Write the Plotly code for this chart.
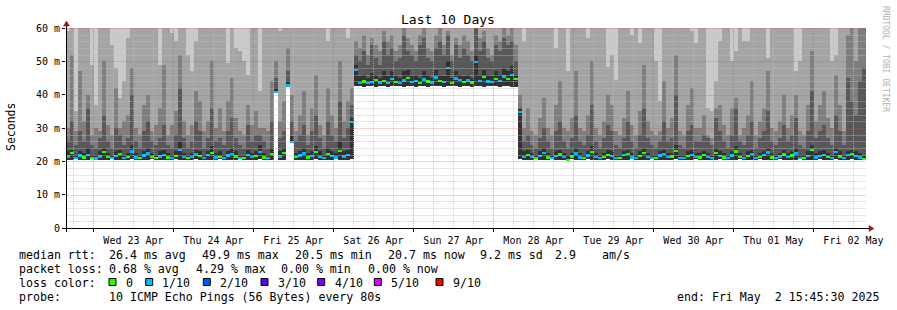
import plotly.graph_objects as go
import pandas as pd

# ---------------- data (ms), one value per 72-minute bin ----------------
rtt_min = [
 20.5,20.4,20.6,20.5,20.4,20.5,20.6,20.4,20.5,20.5,
 20.4,20.6,20.5,20.4,20.5,20.5,20.6,20.4,20.5,20.4,
 20.5,20.6,20.5,20.4,20.5,20.5,20.4,20.6,20.5,20.5,
 20.4,20.5,20.6,20.4,20.5,20.5,20.4,20.5,20.6,20.5,
 20.4,20.5,20.5,20.6,20.4,20.5,20.5,20.4,20.6,20.5,
 20.4,20.5,40.4,20.5,20.4,42.4,25.5,20.5,20.4,20.5,
 20.5,20.4,20.6,20.5,20.4,20.5,20.5,20.6,20.4,20.5,
 20.5,20.6,42.6,42.5,42.4,42.6,42.5,42.4,42.5,42.6,
 42.4,42.5,42.5,42.6,42.4,42.5,42.5,42.4,42.6,42.5,
 42.4,42.5,42.6,42.5,42.4,42.5,42.5,42.6,42.4,42.5,
 42.5,42.4,42.6,42.5,42.4,42.5,42.6,42.5,42.4,42.5,
 42.5,42.4,42.3,20.6,20.5,20.4,20.5,20.6,20.5,20.4,
 20.5,20.6,20.4,20.5,20.5,20.4,20.6,20.5,20.4,20.5,
 20.6,20.5,20.4,20.5,20.5,20.6,20.4,20.5,20.5,20.4,
 20.5,20.6,20.5,20.4,20.5,20.5,20.6,20.4,20.5,20.5,
 20.4,20.5,20.6,20.5,20.4,20.5,20.5,20.6,20.4,20.5,
 20.5,20.4,20.5,20.6,20.5,20.4,20.5,20.5,20.6,20.4,
 20.5,20.5,20.4,20.6,20.5,20.5,20.4,20.5,20.6,20.5,
 20.4,20.5,20.5,20.6,20.4,20.5,20.5,20.4,20.6,20.5,
 20.5,20.4,20.6,20.5,20.4,20.5,20.6,20.5,20.4,20.5,
]
rtt_median = [
 21.5,22.5,21.0,21.8,21.2,22.0,21.0,20.9,21.5,22.8,
 21.3,21.0,21.6,22.2,21.1,21.4,23.0,21.2,21.0,21.8,
 22.4,21.3,21.0,21.5,22.0,21.2,21.1,21.7,23.5,21.4,
 21.0,21.3,22.1,21.6,21.0,21.9,22.6,21.2,21.4,21.0,
 21.8,22.3,21.5,21.1,21.0,22.0,21.3,21.6,22.8,21.2,
 21.0,22.2,40.8,21.5,22.6,42.8,25.8,21.3,21.8,22.4,
 21.2,21.6,22.9,21.4,21.0,22.3,21.7,21.2,23.1,21.5,
 21.9,31.9,47.4,43.6,44.0,43.5,43.8,44.5,43.7,44.2,
 43.6,44.8,43.9,43.5,44.3,45.0,43.8,44.1,43.6,44.6,
 44.0,43.7,45.2,44.2,43.8,48.0,43.6,44.9,44.4,43.9,
 44.3,43.7,49.9,44.1,45.3,44.0,43.8,44.7,44.2,45.5,
 44.8,46.0,44.8,34.9,21.4,22.0,21.3,21.0,21.7,22.5,
 21.2,21.0,21.6,22.1,21.3,20.5,21.5,22.4,21.2,21.1,
 21.8,22.9,21.3,21.0,21.4,22.0,21.6,21.1,21.0,21.9,
 22.3,21.2,21.0,21.7,22.6,21.4,21.1,21.0,21.8,22.2,
 21.3,21.5,23.2,21.1,21.0,21.6,22.0,21.3,21.2,21.9,
 21.4,21.0,22.5,21.7,21.2,21.0,21.8,23.0,21.3,21.1,
 21.6,22.2,21.0,21.4,21.9,22.7,21.2,21.0,21.5,22.1,
 21.3,21.8,22.4,21.1,21.0,21.6,23.4,21.2,21.7,22.0,
 21.4,21.1,22.8,21.5,21.0,21.9,22.3,21.6,21.2,20.7,
]
rtt_p6 = [
 23,23.5,22,23,22.5,24,22,22,23,24,
 22.5,22,23,23.5,22,22.5,25,22.5,22,23,
 24,22.5,22,23,23.5,22.5,22,23,26,22.5,
 22,22.5,23.5,23,22,23,24.5,22.5,23,22,
 23,24,23,22,22,23.5,22.5,23,25,22.5,
 22,24,42,23,24,44,27.5,22.5,23,24,
 22.5,23,24.5,23,22,24,23,22.5,26,23,
 23.5,33,49,45.5,46,45,46.5,46,45,47,
 45.5,47,45.5,45,47,47.5,45.5,46,45,47,
 46,45,47.5,46,45.5,50,45,47,46,45.5,
 46,45,52,46,47.5,46,45.5,47,46,48,
 47,48.5,46,36,23,23.5,22.5,22,23,24,
 22.5,22,23,23.5,22.5,22,22.5,24,22.5,22,
 23,24.5,22.5,22,22.5,23.5,23,22,22,23,
 23.5,22.5,22,23,24,22.5,22,22,23,23.5,
 22.5,22.5,25,22,22,23,23.5,22.5,22.5,23,
 22.5,22,24,23,22.5,22,23,24.5,22.5,22,
 23,23.5,22,22.5,23,24,22.5,22,22.5,23.5,
 22.5,23,24,22,22,23,25,22.5,23,23.5,
 22.5,22,24,23,22,23,23.5,23,22.5,21.5,
]
rtt_p7 = [
 26,32,25,29,26,36,25,24,27,34,
 26,24,30,28,25,27,40,26,24,29,
 32,26,25,27,31,25,24,28,42,27,
 24,26,32,29,24,27,36,26,27,25,
 29,33,27,25,24,31,26,28,28,26,
 24,32,45,27,29,47,32,26,28,31,
 25,29,34,27,24,32,28,26,38,27,
 30,37,52,50,53,49,55,51,49,56,
 52,54,50,51,58,53,52,50,55,57,
 51,50,54,56,52,58,50,55,51,54,
 52,50,60,53,56,51,50,55,53,57,
 55,56,50,36,26,28,25,24,27,30,
 26,24,29,32,26,24,27,34,26,25,
 28,37,26,24,27,31,29,25,24,27,
 32,26,24,28,36,27,25,24,26,32,
 26,27,40,25,24,29,31,26,26,28,
 27,25,33,29,26,24,28,36,26,25,
 28,32,24,27,29,35,26,25,27,31,
 26,28,33,25,24,29,41,27,29,31,
 27,25,34,29,25,45,38,34,44,48,
]
rtt_p8 = [
 30,52,29,47,32,40,28,30,29,50,
 31,28,42,30,32,34,48,30,28,37,
 40,29,31,36,49,28,31,35,52,32,
 28,31,41,38,29,32,50,30,36,29,
 38,45,33,29,28,37,31,35,30,30,
 29,44,50,32,38,54,40,29,34,41,
 28,36,46,31,28,42,34,30,50,32,
 38,42,56,54,58,52,57,55,53,59,
 56,58,53,55,61,57,55,53,58,60,
 54,53,58,61,55,59,52,57,55,58,
 56,53,61,57,59,54,52,58,56,60,
 58,61,55,40,30,36,29,28,33,39,
 30,28,37,44,30,29,33,47,30,29,
 34,50,30,28,32,40,37,29,28,33,
 41,31,28,35,49,32,29,28,29,44,
 30,33,52,29,28,37,42,30,30,34,
 28,27,36,37,31,28,36,39,28,30,
 34,44,28,32,36,47,30,29,32,40,
 30,34,40,29,28,37,53,32,37,41,
 33,30,46,37,29,58,61,50,61,61,
]
rtt_p9 = [
 59,61,35,61,61,61,49,37,61,61,
 61,55,48,39,44,57,61,61,61,61,
 61,61,61,49,61,61,58.5,56,61,61,
 52,47,56,61,61,61,61,61,61,61,
 49.5,61,54,53,50,46,61,61,41,61,
 61,61,61,59,61,61,61,61,61,61,
 61,61,61,61,61,56,61,61,61,61,
 57,61,61,61,61,61,61,61,61,61,
 61,61,61,61,61,61,61,61,61,61,
 61,61,61,61,61,61,61,61,61,61,
 61,61,61,61,61,61,61,61,61,61,
 61,61,61,61,56,61,61,61,61,61,
 61,61,54,61,61,47,61,61,61,61,
 57,61,61,61,61,48.4,52,44.4,61,61,
 61,58,61,55.5,61,61,61,50,38,61,
 61,61,61,61,61,61,59,55.5,61,61,
 36,35,44,56,61,61,50,53,61,56,
 56,61,61,61,61,51,61,61,61,61,
 61,61,47,50,61,61,61,61,61,61,
 61,50,52,61,61,61,61,61,61,61,
]
rtt_max = [
 61,61,61,61,61,61,61,61,61,61, 61,61,61,61,61,61,61,61,61,61,
 61,61,61,61,61,61,61,61,61,61, 61,61,61,61,61,61,61,61,61,61,
 61,61,61,61,61,61,61,61,61,61, 61,61,61,61,61,61,61,61,61,61,
 61,61,61,61,61,61,61,61,61,61, 61,61,61,61,61,61,61,61,61,61,
 61,61,61,61,61,61,61,61,61,61, 61,61,61,61,61,61,61,61,61,61,
 61,61,61,61,61,61,61,61,61,61, 61,61,61,61,61,61,61,61,61,61,
 61,61,61,61,61,61,61,61,61,61, 61,61,61,61,61,61,61,61,61,61,
 61,61,61,61,61,61,61,61,61,61, 61,61,61,61,61,61,61,61,61,61,
 61,61,61,61,61,61,61,61,61,61, 61,61,61,61,61,61,61,61,61,61,
 61,61,61,61,61,61,61,61,61,61, 61,61,61,61,61,61,61,61,61,61,
]
loss = [
 1,0,1,1,0,1,0,1,1,0, 0,1,1,0,1,0,1,1,0,1,
 1,0,0,1,1,0,1,0,1,1, 0,1,1,0,1,1,0,1,0,1,
 1,1,0,1,0,1,1,0,1,0, 1,0,1,1,0,1,1,0,1,1,
 0,1,0,1,1,0,1,1,0,1, 1,1,1,1,0,1,1,0,1,0,
 1,1,0,1,1,0,1,1,0,1, 0,1,1,0,1,1,0,1,1,0,
 1,0,1,1,0,1,1,0,1,1, 0,1,0,1,1,0,1,0,1,1,
 0,1,1,0,1,0,0,1,1,0, 1,0,1,1,0,0,1,1,0,1,
 0,1,1,0,0,1,1,0,1,1, 1,0,0,1,1,0,1,1,0,0,
 1,1,0,1,0,1,1,0,0,1, 0,1,1,0,1,1,0,1,1,0,
 1,0,1,1,0,1,0,1,1,1, 0,1,1,0,1,1,0,1,1,0,
]

loss_labels = ["0", "1/10", "2/10", "3/10", "4/10", "5/10", "9/10"]
loss_levels = [0, 1, 2, 3, 4, 5, 9]
loss_colors = ["#26ff00", "#00b8ff", "#0059ff", "#5e00ff", "#7e00ff", "#dd00ff", "#ff0000"]
smoke_colors = ["#cacaca", "#a4a4a4", "#7e7e7e", "#585858", "#323232"]

y_ticks = [0, 10, 20, 30, 40, 50, 60]
y_ticktext = ["0", "10 m", "20 m", "30 m", "40 m", "50 m", "60 m"]

title = "Last 10 Days"
line_rtt = ["median rtt:", "26.4 ms avg", "49.9 ms max", "20.5 ms min", "20.7 ms now",
            "9.2 ms sd", "2.9", "am/s"]
line_loss = ["packet loss:", "0.68 % avg", "4.29 % max", "0.00 % min", "0.00 % now"]
line_probe = ["probe:", "10 ICMP Echo Pings (56 Bytes) every 80s"]
end_line = "end: Fri May  2 15:45:30 2025"

# ---------------- geometry ----------------
W, H = 897, 310
PL, PR, PT, PB = 66, 866, 28, 228
start = pd.Timestamp("2025-04-22 15:45:30")
end = pd.Timestamp("2025-05-02 15:45:30")
STEP = pd.Timedelta(minutes=72)
n = len(rtt_median)
times = [start + STEP * (i + 0.5) for i in range(n)]
bw = STEP.total_seconds() * 1000
SPAN = (end - start).total_seconds()

def px(x):
    return (x - PL) / (PR - PL)

def py(y):
    return (PB - y) / (PB - PT)

MONO = "DejaVu Sans Mono"
fig = go.Figure()

tops = [rtt_max, rtt_p9, rtt_p8, rtt_p7, rtt_p6]
for top, col in zip(tops, smoke_colors):
    fig.add_trace(go.Bar(
        x=times, y=[t - b for t, b in zip(top, rtt_min)], base=rtt_min,
        width=bw, marker=dict(color=col, line=dict(width=0)),
        hoverinfo="skip", showlegend=False))

cmap = dict(zip(loss_levels, loss_colors))
fig.add_trace(go.Bar(
    x=times, y=[0.7] * n, base=[m - 0.35 for m in rtt_median],
    width=bw * 0.8, marker=dict(color=[cmap[l] for l in loss], line=dict(width=0)),
    hoverinfo="skip", showlegend=False))

shapes = []
# grid (drawn above the smoke, like rrdtool), snapped to device pixels
minor_col = "rgba(191,191,191,0.75)"
major_col = "rgba(222,79,79,0.55)"
t = pd.Timestamp("2025-04-22 18:00")
while t < end:
    major = (t.hour == 0)
    xpix = round(PL + (t - start).total_seconds() / SPAN * (PR - PL)) + 0.5
    shapes.append(dict(type="line", xref="paper", yref="paper", x0=px(xpix), x1=px(xpix), y0=0, y1=1,
                       layer="above", line=dict(color=major_col if major else minor_col, width=1, dash="1px,1px")))
    t += pd.Timedelta(hours=6)
for v in range(2, 61, 2):
    major = (v % 10 == 0)
    ypix = round(PB - v / 60 * (PB - PT)) + 0.5
    shapes.append(dict(type="line", xref="paper", yref="paper", x0=px(66.5), x1=1, y0=py(ypix), y1=py(ypix),
                       layer="above", line=dict(color=major_col if major else minor_col, width=1, dash="1px,1px")))
# axes with arrows
shapes.append(dict(type="line", xref="paper", yref="paper", x0=px(62), x1=px(869), y0=py(228.5), y1=py(228.5),
                   layer="above", line=dict(color="black", width=1)))
shapes.append(dict(type="line", xref="paper", yref="paper", x0=px(66.5), x1=px(66.5), y0=py(232), y1=py(25),
                   layer="above", line=dict(color="black", width=1)))
arrow_col = "#a01414"
shapes.append(dict(type="path", xref="paper", yref="paper", layer="above",
                   path=f"M {px(869)},{py(225.5)} L {px(874)},{py(228.5)} L {px(869)},{py(231.5)} Z",
                   fillcolor=arrow_col, line=dict(color=arrow_col, width=0.5)))
shapes.append(dict(type="path", xref="paper", yref="paper", layer="above",
                   path=f"M {px(63.5)},{py(26)} L {px(66.5)},{py(21)} L {px(69.5)},{py(26)} Z",
                   fillcolor=arrow_col, line=dict(color=arrow_col, width=0.5)))

ann = []
NB = "\u00a0"
FS = 11.6
def txt(s, x, y, size=FS, anchor="left", color="#000000", angle=0):
    ann.append(dict(text=s.replace(" ", NB), x=px(x), y=py(y), xref="paper", yref="paper",
                    xanchor=anchor, yanchor="middle", showarrow=False, textangle=angle,
                    font=dict(family=MONO, size=size, color=color)))

txt(title, 448, 19, size=13, anchor="center")
txt("Seconds", 11, 127, size=11.5, anchor="center", angle=-90)
txt("RRDTOOL / TOBI OETIKER", 886, 59, size=8, anchor="center", color="#b0b0b0", angle=90)

for s, x in zip(line_rtt, [16.7, 107.3, 200.3, 293.3, 386.3, 478.3, 553, 599.5]):
    txt(s, x, 254.5)
for s, x in zip(line_loss, [16.7, 107.3, 193.5, 279.3, 366]):
    txt(s, x, 268.5)
txt("loss color:", 16.7, 282.5)
for s, x in zip(line_probe, [16.7, 107.3]):
    txt(s, x, 296.5)
txt(end_line, 881, 296.5, anchor="right")

box_x = [109, 145.7, 203.3, 261, 317.7, 374.3, 436]
lab_x = [124, 160.3, 218, 275.7, 332.5, 389.3, 450.5]
for bx, lx, lab, col in zip(box_x, lab_x, loss_labels, loss_colors):
    shapes.append(dict(type="rect", xref="paper", yref="paper", x0=px(bx), x1=px(bx + 7),
                       y0=py(278.5), y1=py(285.5), fillcolor=col, line=dict(color="black", width=1)))
    txt(lab, lx, 282.5)

fig.update_layout(
    width=W, height=H, autosize=False,
    margin=dict(l=PL, r=W - PR, t=PT, b=H - PB, pad=0),
    paper_bgcolor="white", plot_bgcolor="white",
    barmode="overlay", bargap=0, showlegend=False,
    shapes=shapes, annotations=ann,
    xaxis=dict(type="date", range=[start, end], showgrid=False, zeroline=False, showline=False,
               dtick=86400000, tick0="2025-04-23 00:00", tickformat="%a %d %b",
               ticklabelmode="period", ticks="outside", ticklen=3, tickcolor="black",
               tickfont=dict(family=MONO, size=10, color="#000000")),
    yaxis=dict(range=[0, 60], showgrid=False, zeroline=False, showline=False,
               tickvals=y_ticks, ticktext=y_ticktext, ticks="outside", ticklen=3,
               tickcolor="black", tickfont=dict(family=MONO, size=10, color="#000000")),
)

fig.write_html("out.html", config={"displayModeBar": False})
